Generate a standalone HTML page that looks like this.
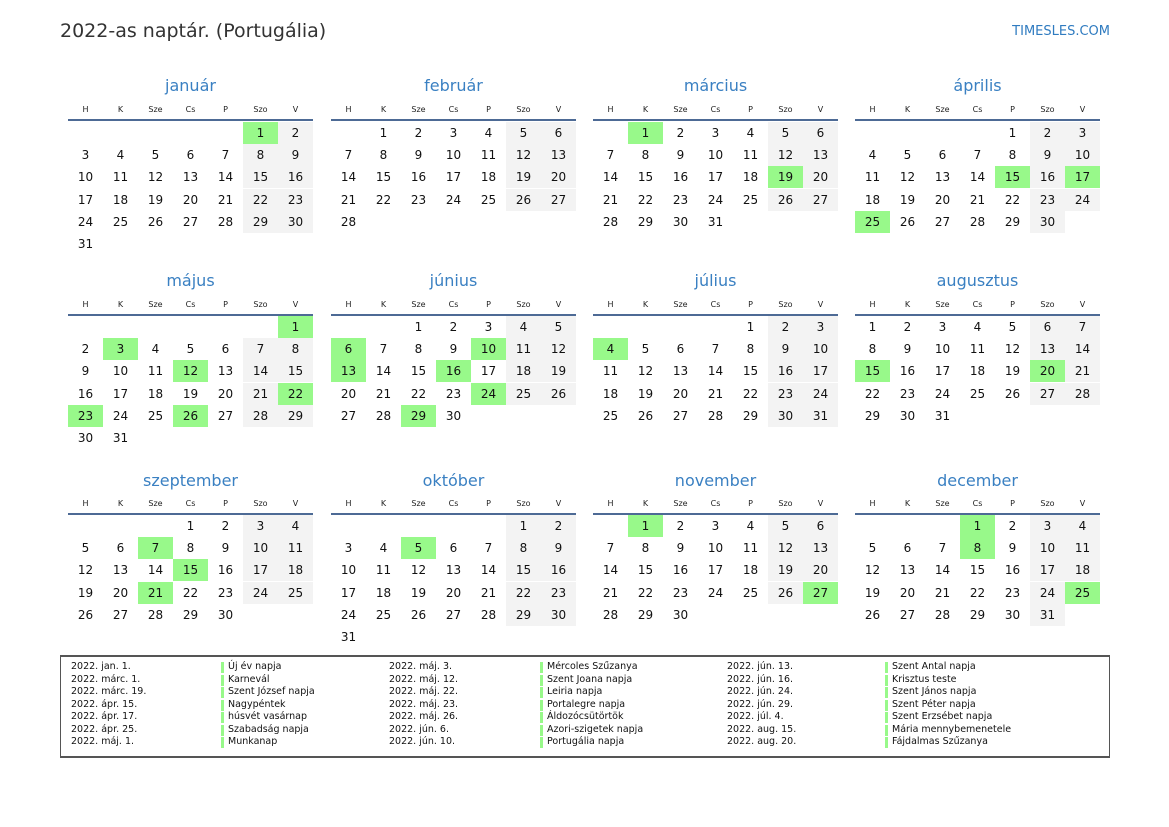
<!DOCTYPE html>
<html><head><meta charset="utf-8"><style>
*{margin:0;padding:0;box-sizing:border-box}
body{width:1169px;height:827px;background:#fff;font-family:"DejaVu Sans","Liberation Sans",sans-serif;position:relative;overflow:hidden;color:#111}
.abs{position:absolute}
.title{left:60px;top:20px;font-size:19px;color:#333;white-space:nowrap}
.site{right:59px;top:24px;font-size:13px;color:#2f7bc0}
.mt{font-size:16px;color:#3a80c2;text-align:center;width:245px}
.wd{font-size:8px;color:#222;text-align:center;width:35px}
.line{height:2px;background:#4d6a95;width:245px}
.c{width:35px;height:22px;font-size:12px;text-align:center;line-height:22px}
.we{background:#f3f3f3}
.h{background:#98f98a}
.box{left:60px;top:655px;width:1050px;height:103px;border:2px solid #555;border-left-width:1px;border-right-width:1px}
.lg{font-size:9.5px;color:#111;white-space:nowrap;line-height:12.5px}
.bar{width:3px;height:11px;background:#98f98a}
</style></head><body>
<div class="abs title">2022-as naptár. (Portugália)</div>
<div class="abs site">TIMESLES.COM</div>
<div id="cal"></div>
<div class="abs box"></div>
<div id="leg"></div>
<script>
var names=["január","február","március","április","május","június","július","augusztus","szeptember","október","november","december"];
var wds=["H","K","Sze","Cs","P","Szo","V"];
var hol={0:[1],2:[1,19],3:[15,17,25],4:[1,3,12,22,23,26],5:[6,10,13,16,24,29],6:[4],7:[15,20],8:[7,15,21],9:[5],10:[1,27],11:[1,8,25]};
var xs=[68,331,593,855];
var rows=[{t:76,w:105,l:119,d:122},{t:271,w:300,l:314,d:316},{t:471,w:499,l:513,d:515}];
var h="";
for(var m=0;m<12;m++){
 var x=xs[m%4],r=rows[Math.floor(m/4)];
 h+='<div class="abs mt" style="left:'+x+'px;top:'+r.t+'px">'+names[m]+'</div>';
 for(var i=0;i<7;i++)h+='<div class="abs wd" style="left:'+(x+i*35)+'px;top:'+r.w+'px">'+wds[i]+'</div>';
 h+='<div class="abs line" style="left:'+x+'px;top:'+r.l+'px"></div>';
 var off=(new Date(2022,m,1).getDay()+6)%7,n=new Date(2022,m+1,0).getDate();
 for(var d=1;d<=n;d++){
  var p=off+d-1,col=p%7,rw=Math.floor(p/7);
  var cls="c";
  if(hol[m]&&hol[m].indexOf(d)>=0)cls+=" h";else if(col>=5)cls+=" we";
  h+='<div class="abs '+cls+'" style="left:'+(x+col*35)+'px;top:'+(r.d+rw*22.2)+'px">'+d+'</div>';
 }
}
document.getElementById("cal").innerHTML=h;
var L=[["2022. jan. 1.","Új év napja"],["2022. márc. 1.","Karnevál"],["2022. márc. 19.","Szent József napja"],["2022. ápr. 15.","Nagypéntek"],["2022. ápr. 17.","húsvét vasárnap"],["2022. ápr. 25.","Szabadság napja"],["2022. máj. 1.","Munkanap"],
["2022. máj. 3.","Mércoles Szűzanya"],["2022. máj. 12.","Szent Joana napja"],["2022. máj. 22.","Leiria napja"],["2022. máj. 23.","Portalegre napja"],["2022. máj. 26.","Áldozócsütörtök"],["2022. jún. 6.","Azori-szigetek napja"],["2022. jún. 10.","Portugália napja"],
["2022. jún. 13.","Szent Antal napja"],["2022. jún. 16.","Krisztus teste"],["2022. jún. 24.","Szent János napja"],["2022. jún. 29.","Szent Péter napja"],["2022. júl. 4.","Szent Erzsébet napja"],["2022. aug. 15.","Mária mennybemenetele"],["2022. aug. 20.","Fájdalmas Szűzanya"]];
var dx=[71,389,727],bx=[221,540,885],g="";
for(var k=0;k<L.length;k++){
 var c=Math.floor(k/7),i=k%7,y=661+i*12.5;
 g+='<div class="abs lg" style="left:'+dx[c]+'px;top:'+y+'px">'+L[k][0]+'</div>';
 g+='<div class="abs bar" style="left:'+bx[c]+'px;top:'+(y+1)+'px"></div>';
 g+='<div class="abs lg" style="left:'+(bx[c]+7)+'px;top:'+y+'px">'+L[k][1]+'</div>';
}
document.getElementById("leg").innerHTML=g;
</script>
</body></html>
